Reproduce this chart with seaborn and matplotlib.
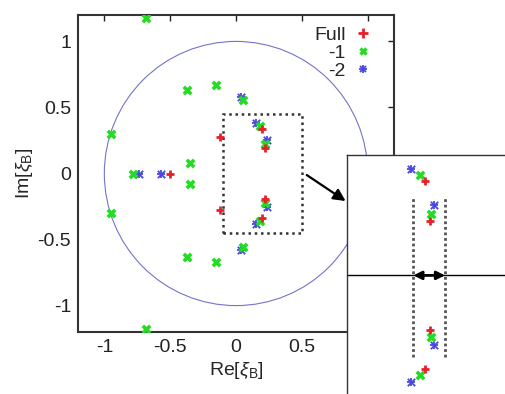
import numpy as np
import pandas as pd
import matplotlib
matplotlib.use('Agg')
import matplotlib.pyplot as plt
import seaborn as sns
from matplotlib.patches import Circle, Rectangle
from matplotlib.lines import Line2D
from matplotlib.legend_handler import HandlerTuple

# data: zeros of xi_B in the complex plane
full_re = [-0.5, -0.12, -0.12, 0.20, 0.20, 0.218, 0.218]
full_im = [0.0, 0.28, -0.28, 0.336, -0.336, 0.195, -0.195]

m1_re = [-0.68, -0.95, -0.37, -0.15, 0.05, -0.78, -0.35, -0.35,
         0.05, -0.15, -0.37, -0.95, -0.68, 0.18, 0.18, 0.22, 0.22]
m1_im = [1.18, 0.30, 0.63, 0.67, 0.56, 0.0, 0.08, -0.08,
         -0.56, -0.67, -0.63, -0.30, -1.18, 0.357, -0.357, 0.22, -0.22]

m2_re = [-0.57, -0.74, 0.15, 0.15, 0.232, 0.232, 0.04, 0.04]
m2_im = [0.0, 0.0, 0.38, -0.38, 0.25, -0.25, 0.58, -0.58]

series = ['Full', '-1', '-2']
colors = {'Full': '#e8202a', '-1': '#22dd22', '-2': '#4848e0'}

box_re = [-0.1, 0.5]
box_im = [-0.45, 0.45]
band_re = [0.157, 0.27]
band_im = [-0.29, 0.28]

df = pd.concat([
    pd.DataFrame({'re': full_re, 'im': full_im, 's': 'Full'}),
    pd.DataFrame({'re': m1_re, 'im': m1_im, 's': '-1'}),
    pd.DataFrame({'re': m2_re, 'im': m2_im, 's': '-2'}),
], ignore_index=True)

sns.set_style('white')
plt.rcParams['font.family'] = ['Liberation Sans', 'DejaVu Sans']
plt.rcParams['axes.unicode_minus'] = False
plt.rcParams['mathtext.fontset'] = 'custom'
plt.rcParams['mathtext.rm'] = 'Liberation Sans'
plt.rcParams['mathtext.it'] = 'Liberation Sans:italic'


def draw_points(a):
    d = df[df.s == 'Full']
    sns.scatterplot(x=d.re, y=d.im, marker='+', color=colors['Full'], s=40,
                    linewidth=2.0, ax=a, zorder=4)
    d = df[df.s == '-1']
    sns.scatterplot(x=d.re, y=d.im, marker='x', color=colors['-1'], s=28,
                    linewidth=2.6, ax=a, zorder=3)
    d = df[df.s == '-2']
    for mk in ['+', 'x']:
        sns.scatterplot(x=d.re, y=d.im, marker=mk, color=colors['-2'], s=28,
                        linewidth=1.3, ax=a, zorder=2)
    a.set_xlabel('')
    a.set_ylabel('')


fig = plt.figure(figsize=(5.05, 3.94), dpi=100)
ax = fig.add_axes([78/505, 1 - 332/394, 316/505, 317/394])

draw_points(ax)

ax.add_patch(Circle((0, 0), 1, fill=False, color='#7474cc', lw=0.8))
ax.add_patch(Rectangle((box_re[0], box_im[0]), box_re[1] - box_re[0],
                       box_im[1] - box_im[0], fill=False, ls=(0, (1, 1.5)),
                       color='#333333', lw=1.8, zorder=1))

ax.set_xlim(-1.2, 1.2)
ax.set_ylim(-1.2, 1.2)
ax.set_xticks([-1, -0.5, 0, 0.5, 1])
ax.set_xticklabels(['-1', '-0.5', '0', '0.5', '1'])
ax.set_yticks([-1, -0.5, 0, 0.5, 1])
ax.set_yticklabels(['-1', '-0.5', '0', '0.5', '1'])
ax.tick_params(direction='in', top=True, right=True, length=4, width=1,
               labelsize=14, colors='#222222', pad=5)
for sp in ax.spines.values():
    sp.set_color('#333333')
    sp.set_linewidth(1.5)
ax.set_xlabel(r'Re[$\xi_{\rm B}$]', fontsize=14, labelpad=3)
ax.set_ylabel(r'Im[$\xi_{\rm B}$]', fontsize=14, labelpad=2)

h_full = Line2D([], [], ls='', marker='+', color=colors['Full'], ms=7, mew=2)
h_m1 = Line2D([], [], ls='', marker='x', color=colors['-1'], ms=5, mew=2.4)
h_m2 = (Line2D([], [], ls='', marker='+', color=colors['-2'], ms=6, mew=1.3),
        Line2D([], [], ls='', marker='x', color=colors['-2'], ms=5, mew=1.3))
ax.legend([h_full, h_m1, h_m2], series, loc='upper right', markerfirst=False,
          frameon=False, fontsize=14, labelspacing=0.0, handletextpad=0.4,
          handlelength=1.0, borderaxespad=0.2, bbox_to_anchor=(0.97, 1.0),
          handler_map={tuple: HandlerTuple(ndivide=1)})

ax.annotate('', xy=(0.85, -0.22), xytext=(0.52, 0.0),
            arrowprops=dict(arrowstyle='-|>', color='black', lw=1.6,
                            mutation_scale=18),
            annotation_clip=False, zorder=5)

# zoomed inset, runs past the figure edge
ins = fig.add_axes([347/505, (394 - 407)/394, 168/505, 252/394])
ins.set_facecolor('white')
draw_points(ins)
ins.axhline(0, color='black', lw=1)
ins.vlines(band_re, band_im[0], band_im[1], colors='#555555',
           linestyles=(0, (1, 1)), lw=2)
ins.annotate('', xy=(band_re[1], 0), xytext=(band_re[0], 0),
             arrowprops=dict(arrowstyle='<|-|>', color='black', lw=2,
                             mutation_scale=12, shrinkA=0, shrinkB=0))
ins.set_xlim(-0.08, 0.52)
ins.set_ylim(-0.47, 0.43)
ins.set_xticks([])
ins.set_yticks([])
for sp in ins.spines.values():
    sp.set_color('#333333')
    sp.set_linewidth(1)

fig.savefig('out.png', dpi=100)
